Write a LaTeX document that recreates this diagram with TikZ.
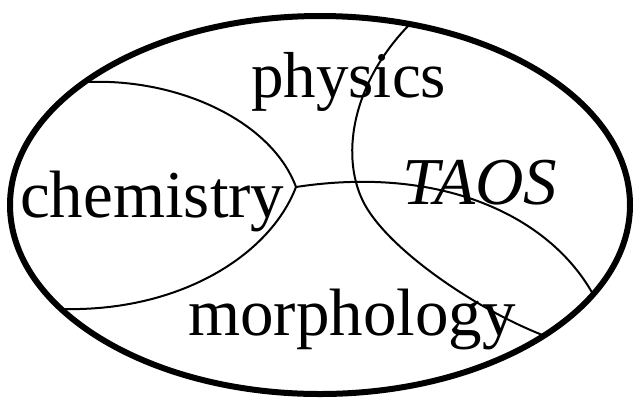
\documentclass[tikz,border=0pt]{standalone}
\usepackage{fontspec}
\setmainfont{Liberation Serif}
\begin{document}
\begin{tikzpicture}[x=1pt,y=-1pt,
  thin line/.style={line width=2pt},
  label text/.style={anchor=base west,inner sep=0pt,font=\fontsize{67}{67}\selectfont}]
\useasboundingbox (0,0) rectangle (634,400);
% outer ellipse
\draw[line width=6pt] (320,205) ellipse [x radius=310, y radius=189];
% chemistry lens
\draw[thin line] (86,82) .. controls (180,78) and (272,122) .. (296,187)
                 .. controls (270,255) and (180,312) .. (62,309);
% morphology boundary
\draw[thin line] (296,187) .. controls (440,165) and (550,215) .. (594,296);
% physics / TAOS boundary
\draw[thin line] (410,24) .. controls (350,85) and (340,160) .. (365,205)
                 .. controls (390,250) and (475,309) .. (545,336);
% labels
\node[label text,font=\fontsize{65}{65}\selectfont] (phys) at (251,97) {physics};
\node[label text] (chem) at (20,217) {chemistry};
\node[label text] (taos) at (402,204) {\itshape TAOS};
\node[label text] (morph) at (188,335) {morphology};
\end{tikzpicture}
\end{document}
